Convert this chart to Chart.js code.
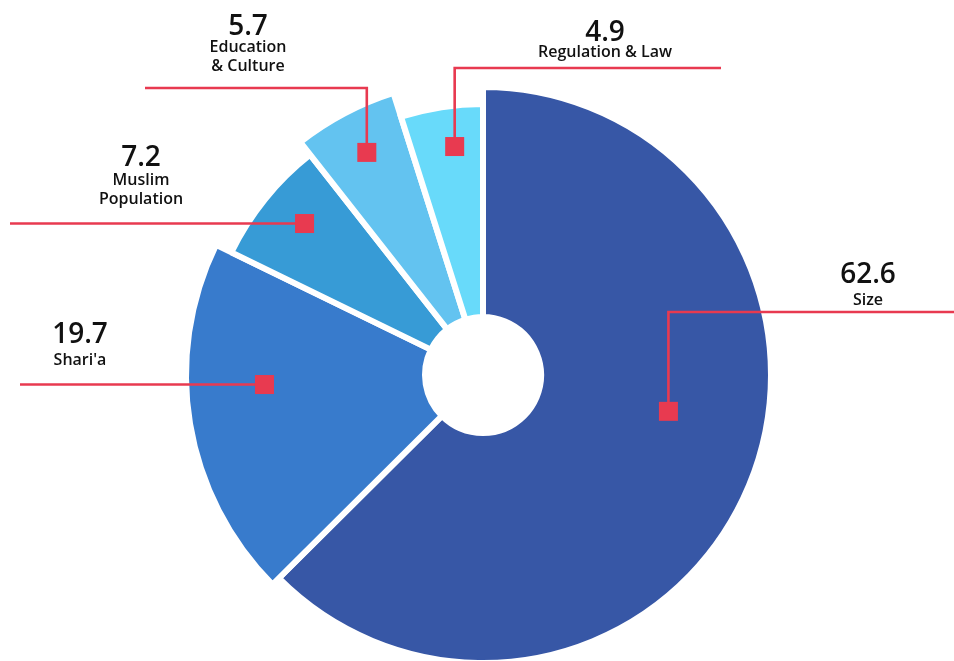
<!DOCTYPE html>
<html><head><meta charset="utf-8">
<script src="https://cdn.jsdelivr.net/npm/chart.js@4.4.1/dist/chart.umd.min.js"></script>
<style>
html,body{margin:0;padding:0;background:#fff;overflow:hidden;}
#wrap{width:954px;height:661px;overflow:hidden;position:relative;}
canvas{display:block;}
</style>
</head><body>
<div id="wrap"><canvas id="c" width="954" height="750"></canvas></div>
<script>
// ---- data ----
const categories = ['Size', "Shari'a", 'Muslim Population', 'Education & Culture', 'Regulation & Law'];
const values = [62.6, 19.7, 7.2, 5.7, 4.9];
const valueLabels = ['62.6', '19.7', '7.2', '5.7', '4.9'];
const nameLines = [['Size'], ["Shari'a"], ['Muslim', 'Population'], ['Education', '& Culture'], ['Regulation & Law']];

// ---- style ----
const colors = ['#3757a6', '#387bcc', '#379bd6', '#63c3f0', '#68dafa'];
const sliceRadius = [285, 294, 277, 293, 268];   // visible outer radius of each slice
const holeRadius = 61;
const gap = 6;
const accent = '#e83a50';
// callout: anchor fraction along slice angle, fraction of slice radius; leader route; label placement
const callouts = [
  {f: 0.449, rf: 0.663, mode: 'up', elbowY: 312, endX: 954, lx: 868, numY: 283, nameY: 305, lh: 19},
  {f: 0.598, rf: 0.744, mode: 'side', endX: 20, lx: 80, numY: 343, nameY: 365, lh: 19},
  {f: 0.554, rf: 0.845, mode: 'side', endX: 10, lx: 141, numY: 166, nameY: 185, lh: 19},
  {f: 0.515, rf: 0.857, mode: 'up', elbowY: 88, endX: 145, lx: 248, numY: 35, nameY: 52, lh: 19},
  {f: 0.599, rf: 0.859, mode: 'up', elbowY: 68, endX: 721, lx: 605, numY: 41, nameY: 57, lh: 19}
];

const radiusPlugin = {
  id: 'sliceRadius',
  beforeDatasetsDraw(chart) {
    const meta = chart.getDatasetMeta(0);
    meta.data.forEach((arc, i) => {
      arc.outerRadius = sliceRadius[i] + gap / 2;
      arc.innerRadius = holeRadius - gap / 2;
    });
  }
};

const calloutPlugin = {
  id: 'callouts',
  afterDatasetsDraw(chart) {
    const ctx = chart.ctx;
    const meta = chart.getDatasetMeta(0);
    ctx.save();
    meta.data.forEach((arc, i) => {
      const c = callouts[i];
      const a = arc.startAngle + c.f * (arc.endAngle - arc.startAngle);
      const r = c.rf * sliceRadius[i];
      const px = arc.x + Math.cos(a) * r;
      const py = arc.y + Math.sin(a) * r;
      ctx.strokeStyle = accent;
      ctx.lineWidth = 2.6;
      ctx.lineJoin = 'miter';
      ctx.beginPath();
      ctx.moveTo(px, py);
      if (c.mode === 'up') {
        ctx.lineTo(px, c.elbowY);
        ctx.lineTo(c.endX, c.elbowY);
      } else {
        ctx.lineTo(c.endX, py);
      }
      ctx.stroke();
      ctx.fillStyle = accent;
      ctx.fillRect(px - 9.5, py - 9.5, 19, 19);

      ctx.fillStyle = '#111111';
      ctx.textAlign = 'center';
      ctx.textBaseline = 'alphabetic';
      ctx.font = '600 28px "Open Sans", "Noto Sans", sans-serif';
      ctx.fillText(valueLabels[i], c.lx, c.numY);
      ctx.font = '600 16px "Open Sans", "Noto Sans", sans-serif';
      nameLines[i].forEach((t, k) => ctx.fillText(t, c.lx, c.nameY + k * c.lh));
    });
    ctx.restore();
  }
};

new Chart(document.getElementById('c'), {
  type: 'doughnut',
  data: {
    labels: categories,
    datasets: [{
      data: values,
      backgroundColor: colors,
      borderColor: '#ffffff',
      borderWidth: gap,
      borderAlign: 'center',
      borderJoinStyle: 'miter',
      hoverOffset: 0
    }]
  },
  options: {
    responsive: false,
    animation: false,
    cutout: holeRadius,
    radius: 300,
    rotation: 0,
    layout: {padding: {left: 12, right: 0, top: 0, bottom: 0}},
    plugins: {legend: {display: false}, tooltip: {enabled: false}},
    events: []
  },
  plugins: [radiusPlugin, calloutPlugin]
});
</script>
</body></html>
